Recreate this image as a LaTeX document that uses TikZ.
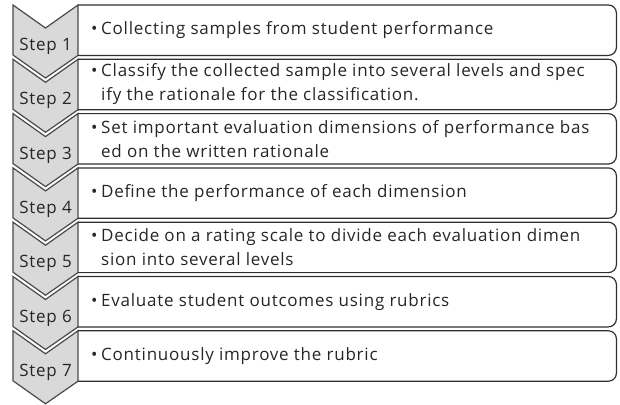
\documentclass[tikz,border=0pt]{standalone}
\usepackage{fontspec}
\setmainfont[LetterSpace=4.5]{Open Sans}
\usetikzlibrary{positioning}
\definecolor{chevfill}{HTML}{D9D9D9}
\definecolor{chevline}{HTML}{4A4A4A}
\definecolor{frameline}{HTML}{303030}
\newcommand\stepbullet{\makebox[10pt][l]{•}}
\newcommand\stepindent{\hspace*{10pt}}
\begin{document}
\begin{tikzpicture}[x=1pt, y=1pt,
	chevron/.style={fill=chevfill, draw=chevline, line width=1.2pt, line join=miter},
	framebox/.style={draw=frameline, line width=1.2pt, rounded corners=8pt},
	stepframe/.style={minimum width=538pt, minimum height=50pt, inner sep=0pt},
	steplabel/.style={font=\fontsize{17}{20}\selectfont, text=black!85, inner sep=0pt},
	steptext/.style={font=\fontsize{17}{24}\selectfont, text=black!85, align=left, inner sep=0pt}]
	\useasboundingbox (0,0) rectangle (620,-404);
	\foreach \k/\txt in {
		1/{\stepbullet Collecting samples from student performance},
		2/{\stepbullet Classify the collected sample into several levels and spec\\\stepindent ify the rationale for the classification.},
		3/{\stepbullet Set important evaluation dimensions of performance bas\\\stepindent ed on the written rationale},
		4/{\stepbullet Define the performance of each dimension},
		5/{\stepbullet Decide on a rating scale to divide each evaluation dimen\\\stepindent sion into several levels},
		6/{\stepbullet Evaluate student outcomes using rubrics},
		7/{\stepbullet Continuously improve the rubric}} {
		\pgfmathsetmacro\rowtop{-5-(\k-1)*54.3}
		\node[stepframe, anchor=north west] (box\k) at (78,\rowtop) {};
		% chevron on the left, its right side is the box edge
		\draw[chevron] (13,\rowtop) -- (45.5,\rowtop-23) -- (box\k.north west)
			-- (box\k.south west) -- (45.5,\rowtop-73) -- (13,\rowtop-50) -- cycle;
		\draw[framebox] (box\k.north west) -- (box\k.north east) -- (box\k.south east) -- (box\k.south west);
		\node[steplabel, anchor=base] (step\k) at (45.5,\rowtop-45.5) {Step \k};
		\node[steptext, anchor=west] (txt\k) at ([xshift=13pt]box\k.west) {\txt};
	}
\end{tikzpicture}
\end{document}
